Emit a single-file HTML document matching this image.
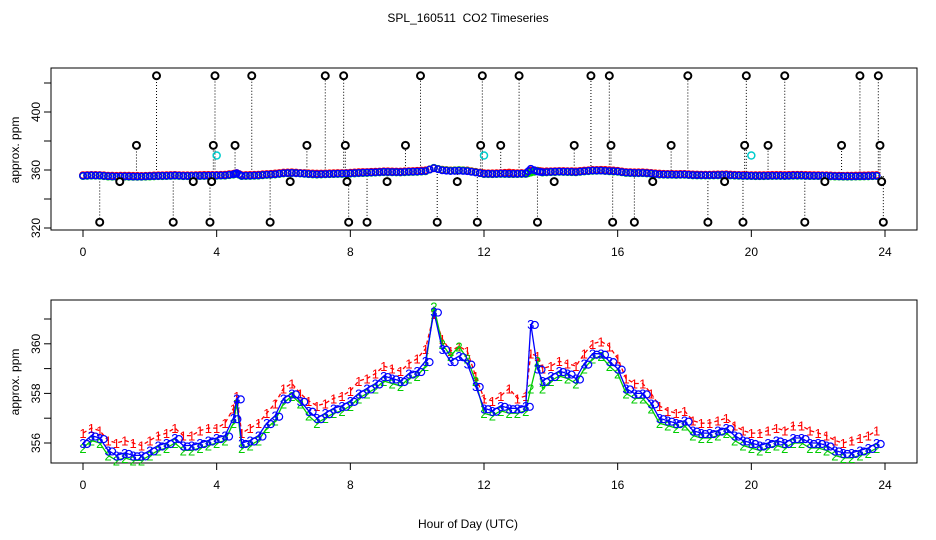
<!DOCTYPE html>
<html><head><meta charset="utf-8"><style>
html,body{margin:0;padding:0;background:#fff}
svg{display:block;font-family:"Liberation Sans",sans-serif}
</style></head><body>
<svg id="c" width="936" height="540" xmlns="http://www.w3.org/2000/svg">
<text x="468" y="22" text-anchor="middle" font-size="12" style="white-space:pre">SPL_160511  CO2 Timeseries</text>
<text x="468" y="528" text-anchor="middle" font-size="12">Hour of Day (UTC)</text>
<text transform="translate(19,150) rotate(-90)" text-anchor="middle" font-size="12">approx. ppm</text>
<text transform="translate(19,382) rotate(-90)" text-anchor="middle" font-size="12">approx. ppm</text>
<g id="topPanel"></g>
<g id="botPanel"></g>
</svg>
<script>
const hours=[0,0.25,0.5,0.75,1,1.25,1.5,1.75,2,2.25,2.5,2.75,3,3.25,3.5,3.75,4,4.25,4.5,4.6,4.75,5,5.25,5.5,5.75,6,6.25,6.5,6.75,7,7.25,7.5,7.75,8,8.25,8.5,8.75,9,9.25,9.5,9.75,10,10.25,10.5,10.75,11,11.25,11.5,11.75,12,12.25,12.5,12.75,13,13.25,13.4,13.6,13.75,14,14.25,14.5,14.75,15,15.25,15.5,15.75,16,16.25,16.5,16.75,17,17.25,17.5,17.75,18,18.25,18.5,18.75,19,19.25,19.5,19.75,20,20.25,20.5,20.75,21,21.25,21.5,21.75,22,22.25,22.5,22.75,23,23.25,23.5,23.75];
const blue=[356.0,356.3,356.2,355.7,355.5,355.6,355.5,355.5,355.7,355.9,356.0,356.2,355.9,355.9,356.0,356.1,356.2,356.3,357.0,357.8,356.0,356.1,356.3,356.8,357.1,357.8,358.0,357.7,357.3,357.0,357.2,357.4,357.5,357.7,358.0,358.2,358.4,358.7,358.6,358.5,358.8,358.9,359.3,361.3,359.8,359.3,359.5,359.2,358.3,357.4,357.3,357.5,357.4,357.4,357.5,360.8,359.0,358.5,358.7,358.9,358.8,358.6,359.2,359.6,359.6,359.3,359.0,358.2,358.0,358.0,357.6,357.0,356.9,356.8,356.9,356.5,356.4,356.4,356.5,356.6,356.3,356.1,356.0,355.9,356.0,356.1,356.0,356.2,356.2,356.0,356.0,355.9,355.7,355.6,355.6,355.7,355.8,356.0];
const red=[356.4,356.6,356.5,356.1,356.0,356.1,356.0,355.9,356.1,356.3,356.4,356.6,356.3,356.3,356.5,356.6,356.6,356.8,357.4,357.9,356.4,356.6,356.8,357.2,357.6,358.2,358.4,358.0,357.7,357.5,357.6,357.8,357.9,358.1,358.5,358.6,358.8,359.1,359.0,358.9,359.2,359.4,359.8,361.2,360.2,359.7,359.9,359.7,358.7,357.8,357.7,357.9,358.2,357.8,357.9,359.6,359.5,359.0,359.1,359.3,359.2,359.1,359.6,360.0,360.1,359.9,359.4,358.6,358.4,358.4,358.0,357.5,357.3,357.2,357.3,356.9,356.8,356.8,356.9,357.0,356.7,356.5,356.4,356.4,356.5,356.6,356.5,356.7,356.7,356.5,356.4,356.3,356.1,356.0,356.1,356.2,356.3,356.5];
const green=[355.8,356.1,356.0,355.5,355.3,355.4,355.3,355.3,355.5,355.7,355.8,356.0,355.7,355.7,355.8,355.9,356.0,356.1,356.8,357.6,355.8,355.9,356.1,356.6,356.9,357.6,357.9,357.6,357.1,356.8,357.0,357.2,357.3,357.5,357.8,358.0,358.2,358.5,358.4,358.3,358.6,358.7,359.1,361.5,360.0,359.5,359.9,359.4,358.5,357.2,357.1,357.3,357.2,357.2,357.3,358.2,359.3,358.2,358.5,358.7,358.6,358.4,359.0,359.4,359.5,359.1,358.8,358.0,357.8,357.8,357.4,356.8,356.7,356.6,356.7,356.3,356.2,356.2,356.3,356.4,356.1,355.9,355.8,355.7,355.8,355.9,355.8,356.0,356.0,355.8,355.8,355.7,355.5,355.4,355.4,355.5,355.6,355.8];
const outHours=[0.5,1.1,1.6,2.2,2.7,3.3,3.8,3.85,3.9,3.95,4.55,5.05,5.6,6.2,6.7,7.25,7.8,7.85,7.9,7.95,8.5,9.1,9.65,10.1,10.6,11.2,11.8,11.9,11.95,12.5,13.05,13.6,14.1,14.7,15.2,15.75,15.8,15.85,16.5,17.05,17.6,18.1,18.7,19.2,19.75,19.8,19.85,20.5,21.0,21.6,22.2,22.7,23.25,23.8,23.85,23.9,23.95];
const outVals=[324,352,377,425,324,352,324,352,377,425,377,425,324,352,377,425,425,377,352,324,324,352,377,425,324,352,324,377,425,377,425,324,352,377,425,425,377,324,324,352,377,425,324,352,324,377,425,377,425,324,352,377,425,425,377,352,324];
const cyanHours=[4.0,12.0,20.0];
const cyanVals=[370,370,370];
const xTicks=[0,4,8,12,16,20,24];
const topYTicks=[320,340,360,380,400,420];
const topYLabels=[320,360,400];
const botYTicks=[356,357,358,359,360,361];
const botYLabels=[356,358,360];

const NS='http://www.w3.org/2000/svg';
const X=h=>83+h*(885-83)/24;
const Yt=v=>228-(v-320)*29/20;
const Yb=v=>443-(v-356)*24.8;
function mk(p,tag,a){const e=document.createElementNS(NS,tag);for(const k in a)e.setAttribute(k,a[k]);p.appendChild(e);return e;}
const topG=document.getElementById('topPanel'),botG=document.getElementById('botPanel');

function frame(g,y0,y1,Y,ticks,labels,pre){
  const b=mk(g,'rect',{x:51,y:y0,width:866,height:y1-y0,fill:'none',stroke:'#000'});
  
  
  xTicks.forEach(t=>{
    const l=mk(g,'line',{x1:X(t),x2:X(t),y1:y1,y2:y1+7,stroke:'#000'});
    
    
    const tx=mk(g,'text',{x:X(t),y:y1+26,'text-anchor':'middle','font-size':12});
    tx.textContent=t;
    
    
  });
  ticks.forEach(t=>{
    const l=mk(g,'line',{x1:44,x2:51,y1:Y(t),y2:Y(t),stroke:'#000'});
    
    
  });
  labels.forEach(t=>{
    const tx=mk(g,'text',{transform:`translate(40,${Y(t)}) rotate(-90)`,'text-anchor':'middle','font-size':12});
    tx.textContent=t;
    
    
  });
}
frame(topG,68,230,Yt,topYTicks,topYLabels,'top');
frame(botG,300,463,Yb,botYTicks,botYLabels,'bottom');

outHours.forEach((h,i)=>{
  const base=blue[Math.min(hours.length-1,Math.round(h*4))];
  const l=mk(topG,'line',{x1:X(h),x2:X(h),y1:Yt(base),y2:Yt(outVals[i]),stroke:'#000','stroke-dasharray':'1,2'});
  
  
});
[['red',red],['#00dd00',green],['blue',blue]].forEach(([c,arr])=>{
  arr.forEach((v,i)=>{
    const cc=mk(topG,'circle',{cx:X(hours[i]),cy:Yt(v),r:3.2,fill:'none',stroke:c,'stroke-width':1.5});
    
    
    if(i<arr.length-1){
      const m=mk(topG,'circle',{cx:(X(hours[i])+X(hours[i+1]))/2,cy:(Yt(v)+Yt(arr[i+1]))/2,r:3.2,fill:'none',stroke:c,'stroke-width':1.5});
      
      
    }
  });
});
outHours.forEach((h,i)=>{
  const c=mk(topG,'circle',{cx:X(h),cy:Yt(outVals[i]),r:3.5,fill:'#fff',stroke:'#000','stroke-width':2});
  
  
});
cyanHours.forEach((h,i)=>{
  const c=mk(topG,'circle',{cx:X(h),cy:Yt(cyanVals[i]),r:3.5,fill:'none',stroke:'#00cccc','stroke-width':1.5});
  
  
});

function series(arr,c,ch,dash,name){
  const d=arr.map((v,i)=>(i?'L':'M')+X(hours[i]).toFixed(1)+','+Yb(v).toFixed(1)).join('');
  const p=mk(botG,'path',{d,fill:'none',stroke:c,'stroke-width':1.3,'stroke-dasharray':dash});
  
  
  arr.forEach((v,i)=>{
    const t=mk(botG,'text',{x:X(hours[i]),y:Yb(v)+5,'text-anchor':'middle','font-size':13,fill:c});
    t.textContent=ch;
    
    
  });
}
series(red,'red','1','4,3','series-1');
series(green,'#00cc00','2','none','series-2');
blue.forEach((v,i)=>{
  const c=mk(botG,'circle',{cx:X(hours[i])+4,cy:Yb(v)+1,r:3.5,fill:'none',stroke:'blue','stroke-width':1.2});
  
  
});
series(blue,'blue','3','none','series-3');
</script>
</body></html>
